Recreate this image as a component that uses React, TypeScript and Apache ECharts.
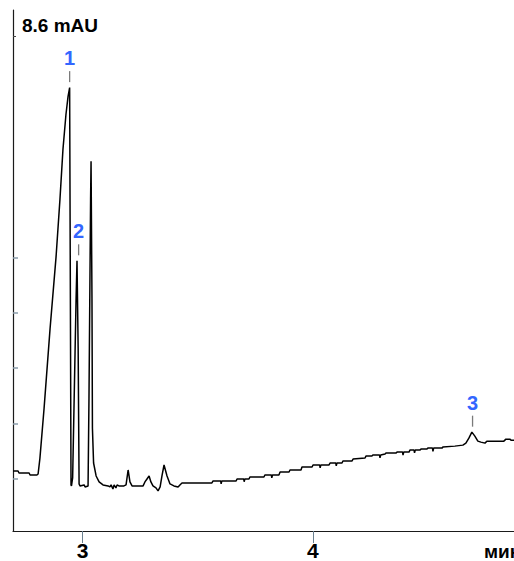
import React, { useEffect, useRef } from "react";
import * as echarts from "echarts";

// Retention time, min
const timeMin = [
  2.698, 2.72, 2.724, 2.768, 2.772, 2.802, 2.807, 2.815, 2.833, 2.859, 2.885, 2.902, 2.915, 2.928, 2.937, 2.944,
  2.95, 2.952, 2.957, 2.972, 2.976, 2.981, 2.985, 2.989, 3.007, 3.011, 3.024, 3.028, 3.035, 3.037, 3.041, 3.043,
  3.048, 3.059, 3.072, 3.089, 3.111, 3.119, 3.124, 3.132, 3.137, 3.145, 3.15, 3.158, 3.18, 3.189, 3.198, 3.206,
  3.215, 3.263, 3.271, 3.28, 3.289, 3.297, 3.306, 3.319, 3.328, 3.337, 3.345, 3.354, 3.367, 3.38, 3.397, 3.415,
  3.423, 3.432, 3.51, 3.562, 3.567, 3.6, 3.602, 3.605, 3.667, 3.671, 3.7, 3.702, 3.705, 3.723, 3.727, 3.788,
  3.792, 3.82, 3.822, 3.825, 3.853, 3.858, 3.897, 3.901, 3.949, 3.953, 3.997, 4.001, 4.03, 4.032, 4.035, 4.07,
  4.075, 4.1, 4.102, 4.105, 4.127, 4.131, 4.17, 4.175, 4.227, 4.231, 4.257, 4.261, 4.29, 4.292, 4.295, 4.314,
  4.318, 4.361, 4.366, 4.39, 4.392, 4.395, 4.418, 4.422, 4.44, 4.442, 4.445, 4.465, 4.47, 4.496, 4.5, 4.52,
  4.522, 4.525, 4.561, 4.565, 4.617, 4.652, 4.665, 4.678, 4.691, 4.704, 4.717, 4.73, 4.748, 4.756, 4.83, 4.839,
  4.856, 4.861, 4.874,
];

// Detector signal, mAU
const signalMAU = [
  0.144, 0.144, 0.108, 0.108, 0.072, 0.072, 0.09, 0.377, 1.277, 2.716, 4.011, 5.054, 5.953, 6.583, 6.906, 7.068,
  -0.108, -0.126, 0.018, 3.255, 3.939, 2.356, -0.09, -0.126, -0.108, -0.144, -0.126, 1.457, 5.054, 5.737, 3.255, 0.917,
  0.288, 0.054, -0.054, -0.108, -0.126, -0.144, -0.108, -0.18, -0.108, -0.162, -0.108, -0.126, -0.126, -0.108, 0.162, -0.054,
  -0.126, -0.126, -0.054, 0.0, 0.054, -0.054, -0.126, -0.162, -0.216, -0.144, 0.054, 0.252, 0.054, -0.09, -0.126, -0.144,
  -0.108, -0.072, -0.072, -0.072, -0.036, -0.036, -0.09, -0.036, -0.036, 0.0, 0.0, -0.05, 0.0, 0.0, 0.036, 0.036,
  0.072, 0.072, 0.02, 0.072, 0.072, 0.126, 0.126, 0.162, 0.162, 0.216, 0.216, 0.252, 0.252, 0.2, 0.252, 0.252,
  0.288, 0.288, 0.235, 0.288, 0.288, 0.324, 0.324, 0.36, 0.378, 0.413, 0.413, 0.431, 0.431, 0.38, 0.431, 0.449,
  0.467, 0.467, 0.485, 0.485, 0.43, 0.485, 0.485, 0.521, 0.521, 0.47, 0.521, 0.521, 0.539, 0.539, 0.557, 0.557,
  0.5, 0.557, 0.557, 0.575, 0.593, 0.611, 0.647, 0.737, 0.845, 0.773, 0.683, 0.665, 0.647, 0.683, 0.683, 0.719,
  0.719, 0.701, 0.701,
];

const peakNames = ["1", "2", "3"];
const peakTimes = [2.944, 2.983, 4.694];
const peakHeights = [7.068, 3.94, 0.845];

const xTickValues = [3, 4];
const yTickValues = [0, 1, 2, 3, 4];
const yTopTick = [8];
const yUnitLabel = "8.6 mAU";
const xUnitLabel = "мин";

const FONT = "'Liberation Sans', Arial, sans-serif";

export default function App() {
  const ref = useRef<HTMLDivElement>(null);

  useEffect(() => {
    document.body.style.margin = "0";
    if (!ref.current) return;
    const chart = echarts.init(ref.current, null, { renderer: "svg" });
    const data = timeMin.map((t, i) => [t, signalMAU[i]]);
    const xMin = 2.698;
    const xMax = 4.874;
    const yMin = -0.94;
    const yMax = 8.47;

    chart.setOption({
      animation: false,
      backgroundColor: "#fff",
      grid: { left: 13, right: 0, top: 10, bottom: 28, containLabel: false },
      xAxis: {
        type: "value",
        min: xMin,
        max: xMax,
        splitLine: { show: false },
        axisLine: { show: true, onZero: false, lineStyle: { color: "#1a1a1a", width: 1.2 } },
        axisTick: {
          show: true,
          customValues: xTickValues,
          length: 12,
          lineStyle: { color: "#6a8090", width: 1 },
        },
        axisLabel: {
          show: true,
          customValues: xTickValues,
          margin: 9,
          color: "#000",
          fontSize: 21,
          fontWeight: "bold",
          fontFamily: FONT,
          formatter: (v: number) => String(v),
        },
      },
      yAxis: [
        {
          type: "value",
          min: yMin,
          max: yMax,
          splitLine: { show: false },
          axisLine: { show: true, onZero: false, lineStyle: { color: "#1a1a1a", width: 1.2 } },
          axisTick: {
            show: true,
            inside: true,
            customValues: yTickValues,
            length: 5,
            lineStyle: { color: "#8a9cab", width: 1.5 },
          },
          axisLabel: { show: false },
        },
        {
          type: "value",
          min: yMin,
          max: yMax,
          position: "left",
          splitLine: { show: false },
          axisLine: { show: false },
          axisTick: {
            show: true,
            inside: true,
            customValues: yTopTick,
            length: 3,
            lineStyle: { color: "#444", width: 1 },
          },
          axisLabel: { show: false },
        },
      ],
      series: [
        {
          type: "line",
          data,
          showSymbol: false,
          symbol: "none",
          lineStyle: { color: "#000", width: 1.5 },
          clip: true,
          markPoint: {
            symbol: "rect",
            symbolSize: [1.3, 11],
            symbolOffset: [0, -11],
            itemStyle: { color: "#7a7a7a" },
            label: {
              show: true,
              position: "top",
              distance: 3,
              formatter: "{b}",
              color: "#3366ff",
              fontSize: 20,
              fontWeight: "bold",
              fontFamily: FONT,
            },
            data: peakNames.map((n, i) => ({ name: n, coord: [peakTimes[i], peakHeights[i]] })),
          },
        },
      ],
      graphic: [
        {
          type: "text",
          left: 22,
          top: 16,
          style: { text: yUnitLabel, font: `bold 19px ${FONT}`, fill: "#000" },
        },
        {
          type: "text",
          left: 484,
          top: 542,
          style: { text: xUnitLabel, font: `bold 19px ${FONT}`, fill: "#000" },
        },
      ],
    });
    return () => chart.dispose();
  }, []);

  return <div ref={ref} style={{ width: 514, height: 561 }} />;
}
